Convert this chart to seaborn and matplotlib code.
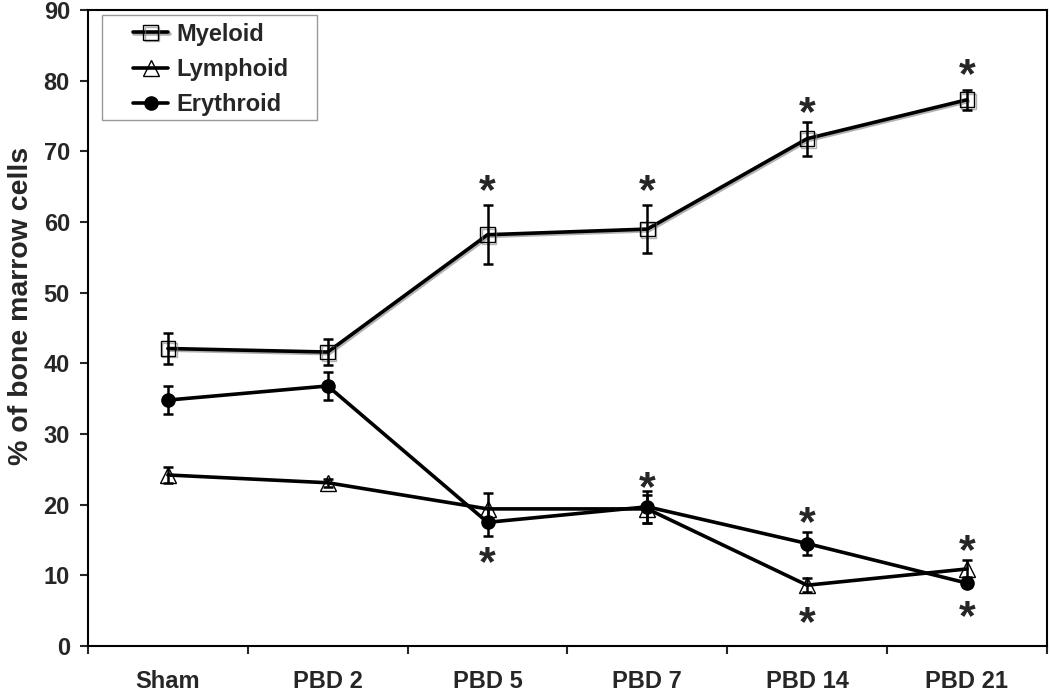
import numpy as np
import pandas as pd
import seaborn as sns
from matplotlib import pyplot as plt
from matplotlib.ticker import FixedLocator
from matplotlib.patches import Rectangle
import matplotlib.patheffects as pe

# %%
groups = ['Sham', 'PBD 2', 'PBD 5', 'PBD 7', 'PBD 14', 'PBD 21']

myeloid = [42.1, 41.6, 58.2, 59.0, 71.8, 77.3]
myeloid_err = [2.2, 1.9, 4.2, 3.4, 2.4, 1.4]

lymphoid = [24.2, 23.1, 19.4, 19.4, 8.6, 10.9]
lymphoid_err = [1.2, 0.6, 2.2, 2.0, 1.0, 1.2]

erythroid = [34.8, 36.8, 17.5, 19.7, 14.5, 8.9]
erythroid_err = [2.0, 2.0, 2.0, 2.3, 1.6, 0.5]

# asteriscos de significancia: (grupo, altura)
stars_pos = [2, 3, 4, 5, 2, 3, 4, 4, 5, 5]
stars_y = [65.2, 65.2, 76.3, 81.6, 12.6, 23.2, 18.2, 4.1, 14.3, 5.0]

df = pd.DataFrame({
    'grupo': groups * 3,
    'valor': myeloid + lymphoid + erythroid,
    'erro': myeloid_err + lymphoid_err + erythroid_err,
    'linhagem': ['Myeloid'] * 6 + ['Lymphoid'] * 6 + ['Erythroid'] * 6,
})

# %%
sns.set_style('white')
plt.rcParams['font.family'] = ['Liberation Sans', 'DejaVu Sans']
plt.rcParams['font.weight'] = 'bold'

fig = plt.figure(figsize=(10.5, 6.92), dpi=100)
ax = fig.add_axes([0.0838, 0.0665, 0.9132, 0.919])

estilos = {
    'Myeloid': dict(marker='s', mfc='none', ms=10.5),
    'Lymphoid': dict(marker='^', mfc='none', ms=12),
    'Erythroid': dict(marker='o', mfc='black', ms=9.5),
}

for nome, st in estilos.items():
    d = df[df['linhagem'] == nome]
    sns.lineplot(data=d, x='grupo', y='valor', ax=ax, color='black', linewidth=2.6,
                 marker=st['marker'], markersize=st['ms'], markerfacecolor=st['mfc'],
                 markeredgecolor='black', markeredgewidth=1.0, label=nome, sort=False)
    if nome == 'Myeloid':
        ax.lines[-1].set_path_effects([pe.SimpleLineShadow(offset=(1, -1.2), shadow_color='gray', alpha=0.6),
                                       pe.Normal()])
    ax.errorbar(np.arange(len(d)), d['valor'], yerr=d['erro'], fmt='none',
                ecolor='black', elinewidth=1.8, capsize=3.5, capthick=1.8, zorder=3)

for xp, yp in zip(stars_pos, stars_y):
    ax.annotate('*', (xp, yp), xytext=(0, -5), textcoords='offset points',
                ha='center', va='center', fontsize=31, fontweight='bold')

ax.set_xlim(-0.5, 5.5)
ax.set_ylim(0, 90)
ax.set_yticks(range(0, 91, 10))
ax.set_xticks(range(6))
ax.set_xticklabels(groups)
ax.xaxis.set_minor_locator(FixedLocator(np.arange(-0.5, 6, 1)))
ax.tick_params(axis='x', which='major', length=0, pad=17, labelsize=17)
ax.tick_params(axis='x', which='minor', length=6, width=1.5, direction='out', bottom=True)
ax.tick_params(axis='y', length=6, width=1.5, direction='out', left=True, labelsize=17, pad=7)
ax.set_xlabel('')
ax.set_ylabel('% of bone marrow cells', fontsize=20.5, fontweight='bold')
ax.yaxis.set_label_coords(-0.056, 0.535)

for s in ax.spines.values():
    s.set_visible(True)
    s.set_color('black')
    s.set_linewidth(1.5)

leg = ax.legend(loc='upper left', bbox_to_anchor=(0.047, 0.980), fontsize=17,
                frameon=False, handlelength=1.5, borderpad=0, borderaxespad=0,
                labelspacing=0.52, handletextpad=0.35)
ax.add_patch(Rectangle((0.0146, 0.827), 0.2242, 0.165, transform=ax.transAxes,
                       facecolor='none', edgecolor='#999999', linewidth=1.0, zorder=5))

plt.savefig('out.png', dpi=100)
